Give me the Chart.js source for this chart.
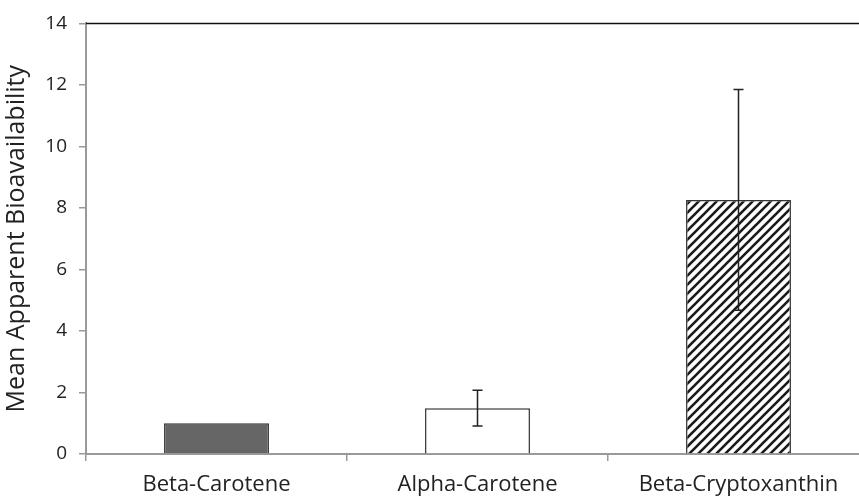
<!DOCTYPE html>
<html>
<head>
<meta charset="utf-8">
<script src="https://cdn.jsdelivr.net/npm/chart.js@4"></script>
<style>
  html, body { margin: 0; padding: 0; background: #fff; overflow: hidden; }
  #wrap { width: 880px; height: 498px; }
</style>
</head>
<body>
<div id="wrap"><canvas id="chart"></canvas></div>
<script>
const categories = ["Beta-Carotene", "Alpha-Carotene", "Beta-Cryptoxanthin"];
const meanValues = [1.0, 1.49, 8.26];
const errorLow = [null, 0.91, 4.67];
const errorHigh = [null, 2.07, 11.85];
const yMin = 0;
const yMax = 14;
const yStep = 2;

function hatch() {
  const c = document.createElement("canvas");
  c.width = 9;
  c.height = 9;
  const g = c.getContext("2d");
  g.fillStyle = "#fff";
  g.fillRect(0, 0, 9, 9);
  g.strokeStyle = "#1a1a1a";
  g.lineWidth = 2.6;
  g.beginPath();
  g.moveTo(-1, 10); g.lineTo(10, -1);
  g.moveTo(-5, 5); g.lineTo(5, -5);
  g.moveTo(4, 14); g.lineTo(14, 4);
  g.stroke();
  return g.createPattern(c, "repeat");
}

const errorBars = {
  id: "errorBars",
  afterDatasetsDraw(chart) {
    const ctx = chart.ctx;
    const y = chart.scales.y;
    const bars = chart.getDatasetMeta(0).data;
    ctx.save();
    ctx.strokeStyle = "#222";
    ctx.lineWidth = 1.5;
    bars.forEach((bar, i) => {
      if (errorLow[i] == null) return;
      const top = y.getPixelForValue(errorHigh[i]);
      const bot = y.getPixelForValue(errorLow[i]);
      ctx.beginPath();
      ctx.moveTo(bar.x, top); ctx.lineTo(bar.x, bot);
      ctx.moveTo(bar.x - 5, top); ctx.lineTo(bar.x + 5, top);
      ctx.moveTo(bar.x - 5, bot); ctx.lineTo(bar.x + 5, bot);
      ctx.stroke();
    });
    ctx.restore();
  }
};

const topLine = {
  id: "topLine",
  beforeDatasetsDraw(chart) {
    const a = chart.chartArea;
    const ctx = chart.ctx;
    ctx.save();
    ctx.strokeStyle = "#111";
    ctx.lineWidth = 1.5;
    ctx.beginPath();
    ctx.moveTo(a.left, a.top);
    ctx.lineTo(a.right, a.top);
    ctx.stroke();
    ctx.restore();
  }
};

const font = "'Open Sans', sans-serif";

new Chart(document.getElementById("chart"), {
  type: "bar",
  data: {
    labels: categories,
    datasets: [{
      data: meanValues,
      backgroundColor: ["#666666", "#ffffff", hatch()],
      borderColor: "#333333",
      borderWidth: 1.5,
      barPercentage: 0.402,
      categoryPercentage: 1
    }]
  },
  options: {
    responsive: true,
    maintainAspectRatio: false,
    animation: false,
    layout: { padding: { top: 22, right: 11, left: 0, bottom: 0 } },
    plugins: { legend: { display: false }, tooltip: { enabled: false } },
    scales: {
      x: {
        afterFit(s) { s.height = 44; },
        grid: { drawOnChartArea: false, offset: true, color: "#999", tickLength: 7, lineWidth: 1.5 },
        border: { color: "#999", width: 2 },
        ticks: { color: "#222", font: { family: font, size: 22 }, padding: 11 }
      },
      y: {
        min: yMin,
        max: yMax,
        afterFit(s) { s.width = 86; },
        grid: { drawOnChartArea: false, color: "#999", tickLength: 7, lineWidth: 1.5 },
        border: { color: "#999", width: 2 },
        ticks: { stepSize: yStep, color: "#222", font: { family: font, size: 19 }, padding: 12 },
        title: { display: true, text: "Mean Apparent Bioavailability", color: "#222", font: { family: font, size: 25 }, padding: { top: 2, bottom: 0 } }
      }
    }
  },
  plugins: [topLine, errorBars]
});
</script>
</body>
</html>
